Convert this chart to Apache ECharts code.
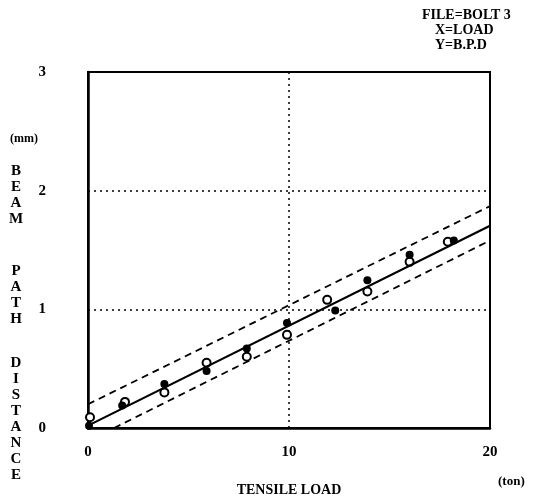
<!DOCTYPE html>
<html>
<head>
<meta charset="utf-8">
<script src="https://cdn.jsdelivr.net/npm/echarts@6/dist/echarts.min.js"></script>
<style>
  html, body { margin: 0; padding: 0; background: #fff; }
  #chart { width: 539px; height: 502px; }
</style>
</head>
<body>
<div id="chart"></div>
<script>
// measured points (load in ton, beam path distance in mm)
const filledLoad = [0.05, 1.7, 3.8, 5.9, 7.9, 9.9, 12.3, 13.9, 16.0, 18.2]
const filledBPD = [0.02, 0.19, 0.37, 0.48, 0.67, 0.885, 0.99, 1.245, 1.46, 1.58]
const openLoad = [0.1, 1.84, 3.8, 5.9, 7.9, 9.9, 11.9, 13.9, 16.0, 17.9]
const openBPD = [0.09, 0.22, 0.30, 0.55, 0.60, 0.785, 1.08, 1.15, 1.40, 1.57]
// regression line and its bounds, as end points
const fitLine = [[0, 0.02], [20, 1.705]]
const upperBound = [[0, 0.2], [20, 1.87]]
const lowerBound = [[1.3, 0], [20, 1.58]]
const xTicks = [0, 10, 20]
const yTicks = [0, 1, 2, 3]

const font = 'Liberation Serif'
const zip = (xs, ys) => xs.map((x, i) => [x, ys[i]])
const dotted = { color: '#000', width: 1.5, type: [2, 4] }

const chart = echarts.init(document.getElementById('chart'))
chart.setOption({
  animation: false,
  grid: {
    left: 88, right: 49, top: 72, bottom: 71,
    show: true, borderColor: '#000', borderWidth: 2
  },
  xAxis: {
    type: 'value', min: 0, max: 20, interval: 10,
    name: 'TENSILE LOAD', nameLocation: 'middle', nameGap: 62,
    nameTextStyle: { fontFamily: font, fontWeight: 'bold', fontSize: 14, color: '#000', verticalAlign: 'middle' },
    axisLine: { show: true, lineStyle: { color: '#000', width: 2.5 } },
    axisTick: { show: false },
    axisLabel: {
      margin: 17, color: '#000', fontFamily: font, fontWeight: 'bold', fontSize: 15,
      formatter: v => xTicks.includes(v) ? String(v) : ''
    },
    splitLine: { show: true, lineStyle: dotted }
  },
  yAxis: {
    type: 'value', min: 0, max: 3, interval: 1,
    axisLine: { show: true, lineStyle: { color: '#000', width: 2.5 } },
    axisTick: { show: false },
    axisLabel: {
      margin: 42, color: '#000', fontFamily: font, fontWeight: 'bold', fontSize: 15,
      formatter: v => yTicks.includes(v) ? String(v) : ''
    },
    splitLine: { show: true, lineStyle: dotted }
  },
  series: [
    {
      type: 'line', data: fitLine, symbol: 'none', silent: true,
      lineStyle: { color: '#000', width: 2.2 }
    },
    {
      type: 'line', data: upperBound, symbol: 'none', silent: true,
      lineStyle: { color: '#000', width: 1.8, type: [7, 5] }
    },
    {
      type: 'line', data: lowerBound, symbol: 'none', silent: true,
      lineStyle: { color: '#000', width: 1.8, type: [7, 5] }
    },
    {
      type: 'scatter', data: zip(openLoad, openBPD), symbol: 'circle', symbolSize: 8,
      itemStyle: { color: '#fff', borderColor: '#000', borderWidth: 2, opacity: 1 }
    },
    {
      type: 'scatter', data: zip(filledLoad, filledBPD), symbol: 'circle', symbolSize: 8,
      itemStyle: { color: '#000', opacity: 1 }
    }
  ],
  graphic: [
    { type: 'text', left: 422, top: 8, style: { text: 'FILE=BOLT 3', font: 'bold 14px ' + font, fill: '#000' } },
    { type: 'text', left: 435, top: 23, style: { text: 'X=LOAD', font: 'bold 14px ' + font, fill: '#000' } },
    { type: 'text', left: 435, top: 38, style: { text: 'Y=B.P.D', font: 'bold 14px ' + font, fill: '#000' } },
    { type: 'text', left: 10, top: 133, style: { text: '(mm)', font: 'bold 12px ' + font, fill: '#000' } },
    { type: 'text', left: 498, top: 475, style: { text: '(ton)', font: 'bold 13px ' + font, fill: '#000' } },
    { type: 'text', x: 16, y: 163, style: { text: 'B\nE\nA\nM', font: 'bold 15px ' + font, lineHeight: 16, align: 'center', fill: '#000' } },
    { type: 'text', x: 16, y: 263, style: { text: 'P\nA\nT\nH', font: 'bold 15px ' + font, lineHeight: 16, align: 'center', fill: '#000' } },
    { type: 'text', x: 16, y: 355, style: { text: 'D\nI\nS\nT\nA\nN\nC\nE', font: 'bold 15px ' + font, lineHeight: 16, align: 'center', fill: '#000' } }
  ]
})
</script>
</body>
</html>
